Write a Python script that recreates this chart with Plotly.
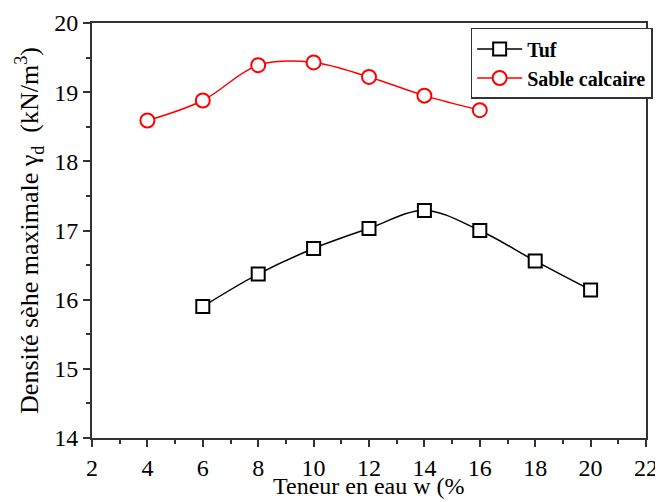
import plotly.graph_objects as go

tuf_w = [6, 8, 10, 12, 14, 16, 18, 20]
tuf_gd = [15.90, 16.37, 16.74, 17.03, 17.29, 17.00, 16.56, 16.14]
sable_w = [4, 6, 8, 10, 12, 14, 16]
sable_gd = [18.59, 18.88, 19.39, 19.43, 19.22, 18.95, 18.74]

FONT = "Liberation Serif, Times New Roman, Times, serif"

fig = go.Figure()
fig.add_trace(go.Scatter(
    x=tuf_w, y=tuf_gd, name="Tuf", mode="lines+markers",
    line=dict(color="black", width=1.5, shape="spline", smoothing=1.0),
    marker=dict(symbol="square", size=13, color="white", line=dict(color="black", width=2)),
))
fig.add_trace(go.Scatter(
    x=sable_w, y=sable_gd, name="Sable calcaire", mode="lines+markers",
    line=dict(color="red", width=1.5, shape="spline", smoothing=1.0),
    marker=dict(symbol="circle", size=14, color="white", line=dict(color="red", width=2)),
))

# page body adds an 8px offset; size the figure to fill the rest of the window
fig.update_layout(
    width=655, height=494,
    margin=dict(l=84, r=10, t=15, b=64),
    paper_bgcolor="white", plot_bgcolor="white",
    font=dict(family=FONT, size=24, color="black"),
    legend=dict(x=1.012, y=0.988, xanchor="right", yanchor="top",
                bordercolor="#333", borderwidth=1.5, bgcolor="white",
                font=dict(family=FONT, size=20, color="black", weight="bold"),
                tracegroupgap=0, itemwidth=45),
    showlegend=True,
    annotations=[dict(text="Teneur en eau w (%", xref="paper", yref="paper",
                      x=0.5, y=-0.153, xanchor="center", yanchor="bottom",
                      showarrow=False, font=dict(family=FONT, size=24, color="black"))],
)

for ax in (fig.update_xaxes, fig.update_yaxes):
    ax(showline=True, linecolor="#333", linewidth=2, mirror=True,
       ticks="outside", ticklen=7, tickwidth=1.5, tickcolor="#333",
       showgrid=False, zeroline=False, automargin=False,
       tickfont_family=FONT, tickfont_size=24, tickfont_color="black")

fig.update_xaxes(range=[2, 22], dtick=2,
                 minor=dict(ticks="outside", ticklen=4, tickwidth=1.5, tickcolor="#333", dtick=1))
fig.update_yaxes(range=[14, 20], dtick=1,
                 minor=dict(ticks="outside", ticklen=4, tickwidth=1.5, tickcolor="#333", dtick=0.5),
                 title=dict(text="Densité sèhe maximale γ<sub>d</sub>  (kN/m<sup>3</sup>)",
                            font=dict(family=FONT, size=26), standoff=8))

fig.write_html("out.html")
